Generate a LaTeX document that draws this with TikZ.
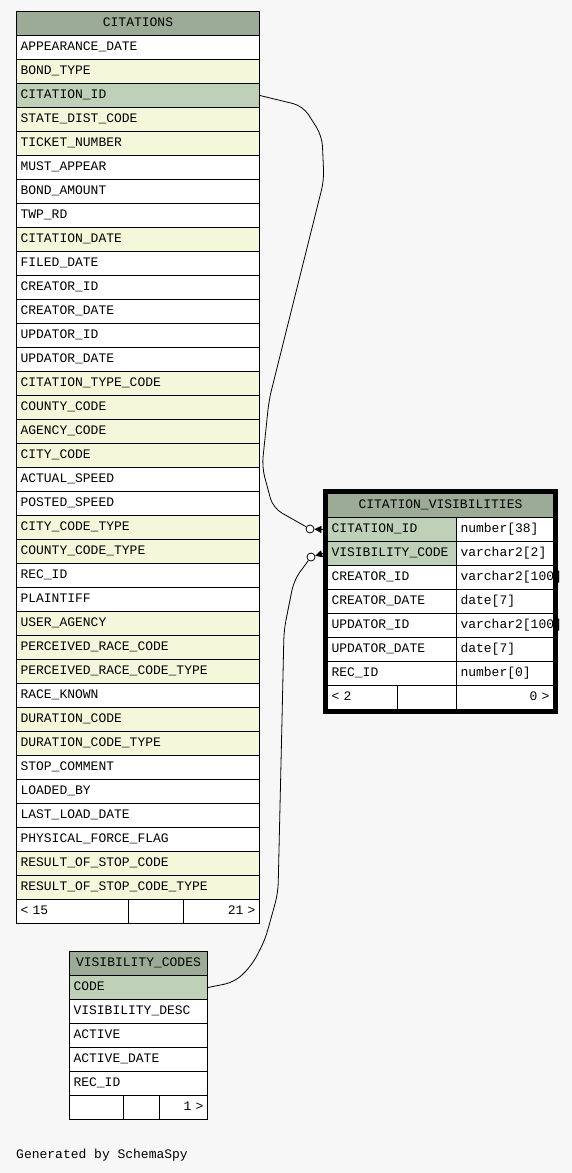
\documentclass[tikz,border=0pt]{standalone}
\usepackage{fontspec}
\usepackage{xcolor}
\usepackage{tikz}
\usetikzlibrary{arrows.meta}
\newfontfamily\schfont{Liberation Mono}
\definecolor{canvas}{HTML}{F7F7F7}
\definecolor{hdrgreen}{HTML}{9BAB96}
\definecolor{pkgreen}{HTML}{BED1B8}
\definecolor{idxcream}{HTML}{F4F7DA}
\tikzset{
  colrow/.style={draw=black,line width=1pt,fill=white,minimum height=24pt,inner xsep=4pt,inner ysep=0pt,
    text height=9pt,text depth=3pt,align=left,anchor=north west,font=\schfont\fontsize{13}{15}\selectfont},
  idxrow/.style={colrow,fill=idxcream},
  pkrow/.style={colrow,fill=pkgreen},
  hdrrow/.style={colrow,fill=hdrgreen,align=center},
  fkline/.style={line width=0.8pt,rounded corners=10pt},
  fkdot/.style={circle,draw=black,fill=white,line width=0.8pt,minimum size=8pt,inner sep=0pt},
  crow/.style={-{Triangle[length=7pt,width=7pt]},line width=0.8pt}
}

\begin{document}
\begin{tikzpicture}[x=1pt,y=-1pt]
\fill[canvas] (0,0) rectangle (572,1173);
\useasboundingbox (0,0) rectangle (572,1173);

% CITATIONS
\node[hdrrow,text width=235pt] (cit-h) at (16,11) {CITATIONS};
\foreach \fld/\sty [count=\i] in {APPEARANCE\_DATE/colrow, BOND\_TYPE/idxrow, CITATION\_ID/pkrow,
    STATE\_DIST\_CODE/idxrow, TICKET\_NUMBER/idxrow, MUST\_APPEAR/colrow, BOND\_AMOUNT/colrow,
    TWP\_RD/colrow, CITATION\_DATE/idxrow, FILED\_DATE/colrow, CREATOR\_ID/colrow,
    CREATOR\_DATE/colrow, UPDATOR\_ID/colrow, UPDATOR\_DATE/colrow, CITATION\_TYPE\_CODE/idxrow,
    COUNTY\_CODE/idxrow, AGENCY\_CODE/idxrow, CITY\_CODE/idxrow, ACTUAL\_SPEED/colrow,
    POSTED\_SPEED/colrow, CITY\_CODE\_TYPE/idxrow, COUNTY\_CODE\_TYPE/idxrow, REC\_ID/colrow,
    PLAINTIFF/colrow, USER\_AGENCY/idxrow, PERCEIVED\_RACE\_CODE/idxrow,
    PERCEIVED\_RACE\_CODE\_TYPE/idxrow, RACE\_KNOWN/colrow, DURATION\_CODE/idxrow,
    DURATION\_CODE\_TYPE/idxrow, STOP\_COMMENT/colrow, LOADED\_BY/colrow, LAST\_LOAD\_DATE/colrow,
    PHYSICAL\_FORCE\_FLAG/colrow, RESULT\_OF\_STOP\_CODE/idxrow, RESULT\_OF\_STOP\_CODE\_TYPE/idxrow}
  \node[\sty,text width=235pt] (cit-\i) at (16,{35+24*(\i-1)}) {\fld};
\node[colrow,text width=104pt] (cit-fl) at (16,899) {< 15};
\node[colrow,text width=47pt] (cit-fm) at (128,899) {};
\node[colrow,text width=68pt,align=right] (cit-fr) at (183,899) {21 >};

% CITATION_VISIBILITIES
\node[hdrrow,text width=218pt] (cv-h) at (327,493) {CITATION\_VISIBILITIES};
\foreach \fld/\typ/\sty [count=\i] in {CITATION\_ID/number[38]/pkrow, VISIBILITY\_CODE/varchar2[2]/pkrow,
    CREATOR\_ID/\mbox{varchar2[100]}/colrow, CREATOR\_DATE/date[7]/colrow,
    UPDATOR\_ID/\mbox{varchar2[100]}/colrow, UPDATOR\_DATE/date[7]/colrow, REC\_ID/number[0]/colrow}
{
  \node[\sty,text width=121pt] (cv-\i) at (327,{517+24*(\i-1)}) {\fld};
  \node[colrow,text width=89pt] (cvt-\i) at (456,{517+24*(\i-1)}) {\typ};
}
\node[colrow,text width=62pt] (cv-fl) at (327,685) {< 2};
\node[colrow,text width=51pt] (cv-fm) at (397,685) {};
\node[colrow,text width=89pt,align=right] (cv-fr) at (456,685) {0 >};
\draw[line width=4pt] ([shift={(-2pt,2pt)}]cv-h.north west) rectangle ([shift={(2pt,-2pt)}]cv-fr.south east);

% VISIBILITY_CODES
\node[hdrrow,text width=130pt] (vc-h) at (69,951) {VISIBILITY\_CODES};
\foreach \fld/\sty [count=\i] in {CODE/pkrow, VISIBILITY\_DESC/colrow, ACTIVE/colrow,
    ACTIVE\_DATE/colrow, REC\_ID/colrow}
  \node[\sty,text width=130pt] (vc-\i) at (69,{975+24*(\i-1)}) {\fld};
\node[colrow,text width=46pt] (vc-fl) at (69,1095) {};
\node[colrow,text width=28pt] (vc-fm) at (123,1095) {};
\node[colrow,text width=40pt,align=right] (vc-fr) at (159,1095) {1 >};

% foreign keys
\node[fkdot] (cv-o1) at (310,529) {};
\node[fkdot] (cv-o2) at (311,557) {};
\draw[crow] ([xshift=-4pt]cv-1.west) -- (cv-o1);
\draw[crow] ([xshift=-4pt]cv-2.west) -- (cv-o2);
\draw[fkline] (cit-3.east) -- (303,106) -- (322,136) -- (324,180) -- (269,400) -- (262,467) -- (273,508) -- (cv-o1);
\draw[fkline] (vc-1.east) -- (235,982) -- (252,965) -- (265,940) -- (278,893) -- (282,720) -- (284,630) -- (294,580) -- (cv-o2);

\node[anchor=base west,inner sep=0pt,font=\schfont\fontsize{13}{15}\selectfont] (gen) at (16,1158) {Generated by SchemaSpy};
\end{tikzpicture}
\end{document}
